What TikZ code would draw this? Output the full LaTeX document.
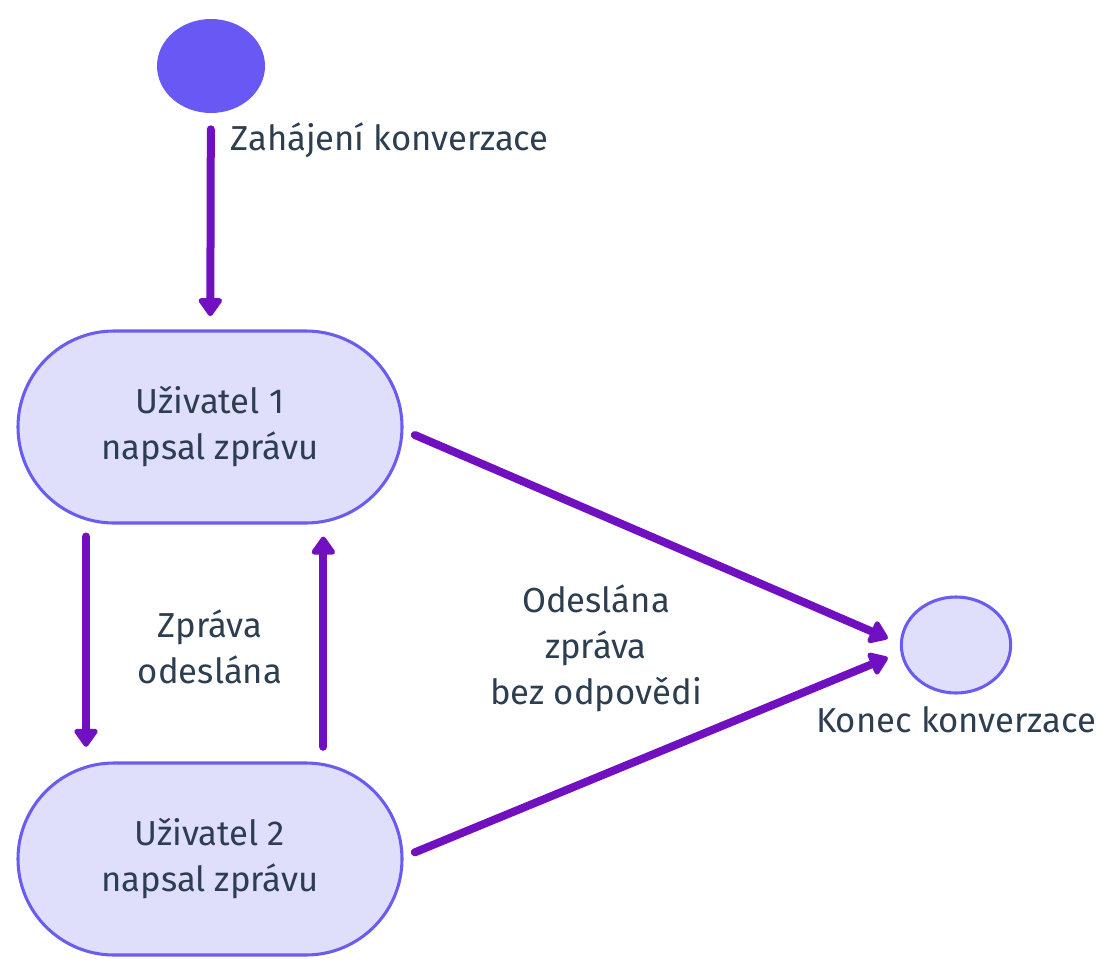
\documentclass[tikz,border=0pt]{standalone}
\usepackage{fontspec}
\setmainfont{Fira Sans}
\usetikzlibrary{arrows.meta,positioning,shapes.geometric}
\definecolor{stavfill}{HTML}{E0DFFB}
\definecolor{stavline}{HTML}{6B5CF0}
\definecolor{startfill}{HTML}{6859F4}
\definecolor{sipka}{HTML}{7010C0}
\definecolor{popis}{HTML}{2C3E50}
\begin{document}
\begin{tikzpicture}[x=0.75pt, y=-0.75pt, line join=round, line cap=round,
		>={Triangle[width=20pt,length=15pt,round]},
		stav/.style={draw=stavline, fill=stavfill, line width=2.3pt, rounded corners=72pt, minimum width=288pt, minimum height=144pt, align=center, text=popis, font=\fontsize{26}{34.5}\selectfont},
		kruh/.style={ellipse, inner sep=0pt},
		prechod/.style={->, draw=sipka, line width=6pt},
		popisek/.style={text=popis, align=center, font=\fontsize{26}{34.5}\selectfont}]
	\useasboundingbox (0,0) rectangle (1116,974);
	\node[kruh, fill=startfill, minimum width=81pt, minimum height=70.5pt] (start) at (211,66) {};
	\node[stav] (u1) at (210,427) {Uživatel 1\\napsal zprávu};
	\node[stav] (u2) at (210,859) {Uživatel 2\\napsal zprávu};
	\node[kruh, draw=stavline, fill=stavfill, line width=2.3pt, minimum width=82pt, minimum height=72pt] (konec) at (956,645) {};
	\draw[prechod, shorten <=12pt, shorten >=10pt] (start) -- (u1);
	\draw[prechod, shorten <=9pt, shorten >=11pt] ([xshift=-93pt]u1.south) -- ([xshift=-93pt]u2.north);
	\draw[prechod, shorten <=11pt, shorten >=9pt] ([xshift=85pt]u2.north) -- ([xshift=85pt]u1.south);
	\draw[prechod] ([xshift=8.5pt,yshift=-6pt]u1.east) -- ([xshift=-9pt,yshift=5pt]konec.west);
	\draw[prechod] ([xshift=8.5pt,yshift=5pt]u2.east) -- ([xshift=-9pt,yshift=-9.5pt]konec.west);
	\node[popisek, anchor=west] (lstart) at (226,140) {Zahájení konverzace};
	\node[popisek] (lsmycka) at (210,647) {Zpráva\\odeslána};
	\node[popisek] (lkonec) at (956,720) {Konec konverzace};
	\node[popisek] (lbez) at (596,648) {Odeslána\\zpráva\\bez odpovědi};
\end{tikzpicture}
\end{document}
